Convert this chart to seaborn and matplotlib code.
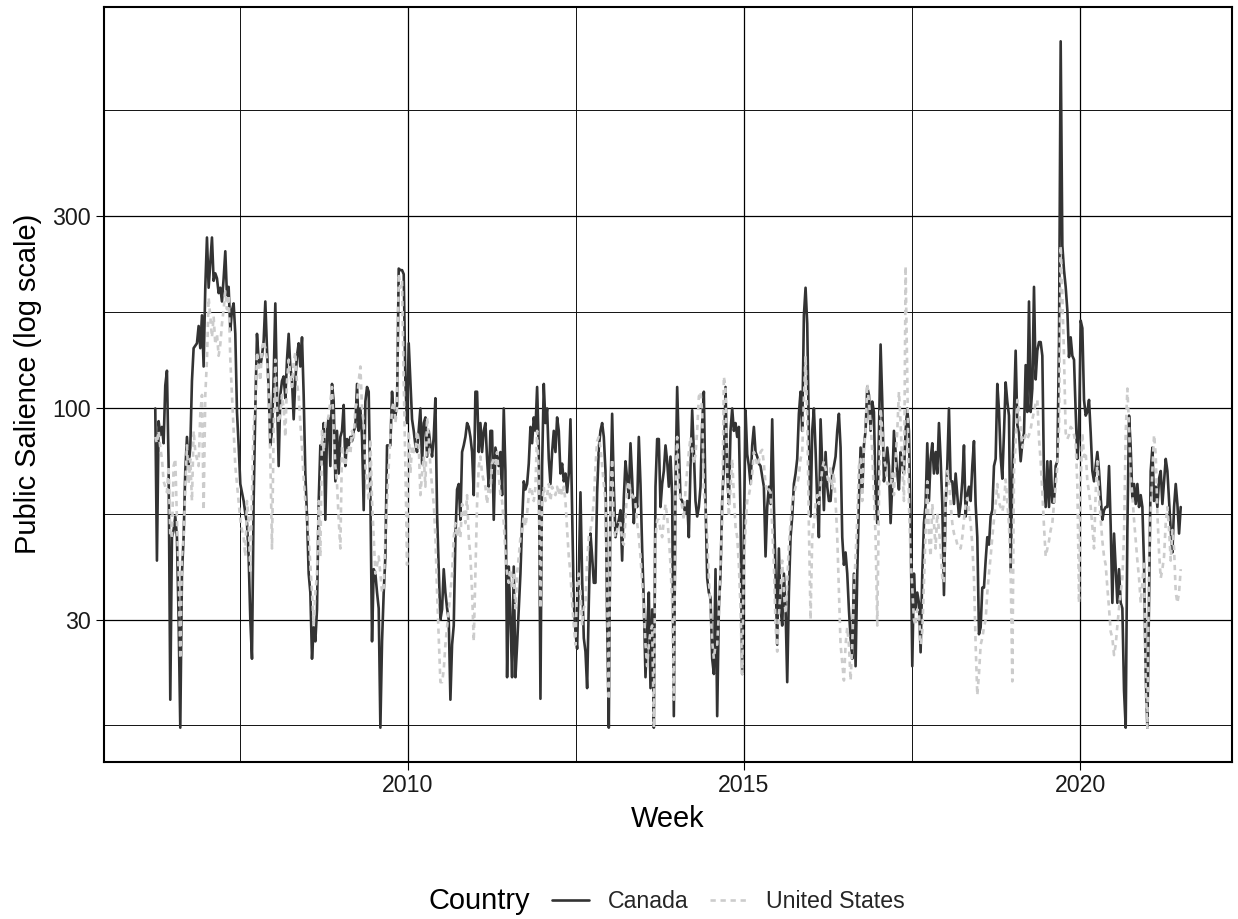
import datetime as dt
import numpy as np
import pandas as pd
import matplotlib
matplotlib.use("Agg")
import matplotlib.pyplot as plt
import matplotlib.dates as mdates
from matplotlib.ticker import FixedLocator, FixedFormatter, NullFormatter
from matplotlib.lines import Line2D
import seaborn as sns

# ---------------- data ----------------
countries = ["Canada", "United States"]
first_week = "2006-03-30"
last_week = "2021-07-01"
y_tick_values = [30, 100, 300]
x_tick_years = [2010, 2015, 2020]

canada = [
    # 2006.2 - 2008.7
    100, 42, 93, 86, 90, 82, 114, 124, 72, 19,
    48, 50, 54, 48, 30, 16.2, 39, 48, 70, 85,
    72, 80, 117, 141, 143, 145, 160, 141, 170, 127,
    200, 265, 199, 230, 265, 207, 216, 210, 193, 199,
    184, 210, 245, 190, 200, 156, 175, 182, 153, 98,
    81, 65, 62, 59, 55, 52, 43, 30, 24, 59,
    100, 153, 132, 127, 135, 147, 184, 140, 112, 81,
    88, 120, 182, 108, 72, 108, 117, 120, 106, 132,
    153, 127, 117, 94, 117, 135, 145, 127, 150, 108,
    69, 54, 39, 35, 24, 28.7, 26.5, 31.8, 58.6, 81,
    # 2008.7 - 2011.2
    73, 92, 53, 88, 95, 72, 115, 104, 66, 88,
    69, 85, 88, 102, 72, 84, 81, 85, 83, 88,
    90, 115, 88, 100, 85, 56, 104, 113, 110, 61,
    26.5, 40, 39, 35, 32, 16.2, 26.5, 35, 43, 81,
    81, 81, 110, 95, 96, 102, 222, 220, 220, 215,
    117, 92, 145, 117, 94, 88, 81, 78, 88, 100,
    73, 92, 95, 76, 88, 81, 76, 85, 106, 55,
    40, 30, 31.8, 40, 35, 32, 30, 19, 26, 29,
    48, 63, 65, 53, 78, 81, 85, 92, 90, 85,
    78, 61, 110, 110, 78, 92, 78, 88, 92, 75,
    64,
    # 2011.2 - 2013.7
    88, 88, 53, 80, 76, 72, 78, 61, 100, 70,
    21.6, 40.6, 30, 21.6, 40.6, 21.6, 26, 31.8, 39, 52,
    66, 63, 65, 73, 90, 82, 95, 88, 113, 80,
    19.1, 72, 115, 92, 100, 75, 65, 78, 88, 78,
    95, 88, 69, 73, 66, 69, 62, 69, 94, 55,
    33, 28, 25.4, 39, 62, 38, 27, 25, 20.3, 33,
    49, 43, 37, 37, 62, 80, 88, 92, 85, 70,
    30, 16.2, 60, 97, 64, 48, 51, 53, 56, 42,
    60, 74, 67, 60, 82, 67, 52, 60, 57, 85,
    65, 45, 33, 21.6, 28, 35, 20.3, 31.8, 16.2, 64,
    84, 84,
    # 2013.8 - 2016.3
    57, 65, 70, 81, 74, 64, 76, 61, 17.3, 65,
    113, 80, 60, 59, 57, 55, 59, 48, 72, 99,
    78, 59, 54, 57, 64, 92, 110, 59, 38, 35,
    34, 24, 22, 40, 17.3, 32, 39, 59, 72, 113,
    69, 58, 88, 100, 88, 92, 85, 90, 54, 22,
    48, 99, 77, 72, 65, 81, 90, 78, 76, 73,
    72, 68, 64, 43, 57, 64, 58, 94, 58, 39,
    26, 45, 32, 29, 39, 32, 21, 35, 48, 54,
    65, 69, 75, 97, 110, 88, 170, 199, 162, 85,
    54, 88, 100, 79, 59, 48, 94, 72, 56, 78,
    64, 59,
    # 2016.3 - 2018.8
    59, 69, 72, 76, 88, 97, 80, 48, 41, 44,
    39, 31.8, 27, 24, 39, 23, 39, 59, 80, 62,
    81, 88, 113, 108, 88, 104, 98, 61, 52, 88,
    144, 104, 66, 72, 80, 72, 52, 65, 88, 78,
    69, 63, 78, 72, 69, 88, 100, 88, 52, 23,
    39, 31.8, 35, 33, 24.9, 39, 52, 58, 82, 59,
    75, 82, 69, 78, 69, 92, 75, 58, 34.5, 58,
    72, 100, 66, 66, 58, 69, 61, 54, 58, 66,
    81, 54, 61, 64, 59, 72, 83, 58, 48, 27.6,
    28.7, 36, 36, 42, 48, 46, 54, 56, 72, 75,
    115,
    # 2018.8 - 2021.5
    99, 76, 67, 87, 116, 104, 96, 39.5, 67, 98,
    139, 91, 87, 74, 82, 87, 128, 98, 184, 98,
    112, 200, 118, 139, 146, 146, 135, 66.7, 57, 74,
    57, 74, 58.5, 58.5, 72, 74, 146, 811, 253, 220,
    200, 175, 134, 150, 135, 132, 98, 75, 87, 165,
    158, 105, 96, 98, 105, 87, 70, 66, 72, 78,
    70, 60, 53, 56, 57, 57, 72, 51, 33, 49,
    40, 33, 40, 33, 32, 20, 16.2, 50, 96, 80,
    60, 65, 58, 65, 57, 61, 57, 41, 22, 16.2,
    33, 70, 80, 59, 64, 57, 67, 70, 58, 66,
    75, 70, 59, 50, 44, 57, 65, 58, 49, 57,
]

united_states = [
    # 2006.2 - 2008.7
    85, 82, 88, 80, 75, 66, 64, 62, 72, 48,
    48, 72, 75, 53, 39, 24, 43, 48, 63, 81,
    65, 75, 59, 88, 78, 75, 72, 97, 108, 56,
    108, 132, 188, 169, 150, 169, 144, 153, 135, 144,
    162, 176, 195, 176, 191, 132, 108, 88, 72, 65,
    59, 53, 50, 48, 43, 59, 53, 39, 61, 92,
    100, 138, 127, 117, 141, 147, 141, 132, 108, 75,
    45, 88, 132, 100, 92, 97, 108, 100, 85, 117,
    132, 122, 113, 130, 138, 115, 108, 92, 80, 67,
    59, 53, 48, 41, 35, 29, 35, 39, 59, 43,
    # 2008.7 - 2011.2
    88, 78, 92, 92, 96, 104, 113, 88, 72, 65,
    53, 45, 81, 75, 72, 78, 81, 77, 88, 84,
    100, 104, 117, 127, 100, 92, 72, 65, 59, 84,
    59, 48, 39, 41, 43, 39, 35, 36, 48, 59,
    72, 85, 100, 104, 92, 100, 216, 199, 207, 117,
    72, 41, 88, 69, 81, 78, 78, 88, 81, 61,
    69, 76, 64, 95, 85, 72, 64, 58, 48, 35,
    27, 21, 21, 22.5, 26, 28.7, 31.8, 35, 39, 48,
    52, 48, 51, 48, 58, 56, 52, 61, 48, 43,
    35, 26.5, 39, 58, 72, 76, 69, 66, 64, 58,
    64,
    # 2011.2 - 2013.7
    62, 73, 75, 73, 78, 68, 61, 59, 52, 44,
    39, 37, 40, 36, 39, 32, 39, 43, 48, 50,
    54, 51, 55, 61, 64, 62, 59, 64, 88, 68,
    32, 58, 64, 59, 61, 65, 59, 64, 62, 61,
    64, 61, 64, 61, 64, 59, 50, 43, 39, 33,
    29, 26, 37, 39, 35, 29, 32, 33, 42, 48,
    50, 53, 59, 72, 83, 85, 80, 72, 65, 59,
    35, 19, 62, 75, 50, 48, 50, 52, 52, 47,
    46, 53, 63, 66, 62, 61, 60, 58, 52, 48,
    43, 37, 32, 26, 23, 26, 28, 29, 16.2, 48,
    53, 53,
    # 2013.8 - 2016.3
    50, 48, 53, 58, 54, 48, 41, 33, 19, 63,
    85, 63, 60, 57, 53, 63, 70, 78, 85, 79,
    73, 77, 88, 107, 110, 98, 62, 57, 48, 38,
    32, 26.5, 24, 26, 26, 31, 42, 52, 120, 112,
    70, 54, 64, 75, 61, 51, 48, 41, 32, 22,
    41, 51, 59, 61, 64, 69, 78, 76, 72, 74,
    78, 79, 73, 65, 62, 63, 62, 51, 41, 29,
    25, 31, 35, 42, 35, 31, 37, 46, 52, 59,
    61, 64, 65, 68, 75, 78, 106, 135, 95, 51,
    30, 48, 52, 58, 61, 58, 64, 71, 74, 71,
    68, 65,
    # 2016.3 - 2018.8
    72, 63, 69, 59, 48, 35, 26, 23.4, 21.2, 26,
    28.7, 26, 21.2, 26, 35, 43, 53, 72, 75, 59,
    80, 88, 115, 104, 92, 78, 61, 48, 29, 59,
    100, 88, 75, 72, 65, 65, 64, 69, 61, 75,
    88, 110, 92, 72, 59, 225, 120, 58, 43, 36,
    30, 29, 31.8, 31.2, 26, 28, 37, 50, 66, 48,
    43, 58, 52, 45, 55, 50, 45, 38, 37, 59,
    70, 66, 58, 52, 49, 48, 46, 45, 45, 48,
    53, 58, 60, 56, 52, 46, 38, 26, 19.5, 22,
    26, 27, 28.7, 30, 35, 39, 43, 48, 53, 58,
    65,
    # 2018.8 - 2021.5
    58.5, 57, 55.5, 58.5, 66.7, 58.5, 51.3, 39.5, 21.1, 70,
    82, 105, 98, 91, 80, 84, 86, 84, 86, 89,
    94, 98, 103, 105, 84, 74, 62, 51, 43, 45,
    47, 50, 52, 58, 64, 72, 90, 253, 190, 135,
    87, 84, 86, 90, 89, 86, 82, 65, 33, 66,
    87, 76, 78, 66, 62, 57, 51, 45, 62, 74,
    60, 53, 47, 43, 41, 36, 32, 28, 27, 24.5,
    26, 29, 32, 35, 38, 49, 87, 112, 90, 68,
    61, 53, 47, 42, 38, 33, 37, 42, 20, 16.2,
    42, 55, 70, 86, 77, 55, 44, 38, 40, 43,
    52, 57, 50, 42, 50, 45, 35, 33, 35, 40,
]

line_colors = {"Canada": "#333333", "United States": "#CCCCCC"}
line_dashes = {"Canada": "", "United States": (2, 1.8)}

# ---------------- build long data frame ----------------
frames = []
for name, vals in zip(countries, [canada, united_states]):
    frames.append(pd.DataFrame({
        "Week": pd.date_range(first_week, last_week, periods=len(vals)),
        "Salience": vals,
        "Country": name,
    }))
df = pd.concat(frames, ignore_index=True)

# ---------------- figure ----------------
sns.set_theme(style="white")
plt.rcParams["font.family"] = ["Liberation Sans", "DejaVu Sans"]

W, H = 1238, 919
fig = plt.figure(figsize=(W / 100, H / 100), dpi=100)
px_l, px_r, px_t, px_b = 104, 1232, 7, 762
ax = fig.add_axes([px_l / W, 1 - px_b / H, (px_r - px_l) / W, (px_b - px_t) / H])

sns.lineplot(data=df, x="Week", y="Salience", hue="Country", style="Country",
             hue_order=countries, style_order=countries,
             palette=line_colors, dashes=line_dashes, linewidth=1.9,
             estimator=None, legend=False, ax=ax)

ax.set_yscale("log")

# limits: 5% expansion (in transformed space) like ggplot
lo, hi = np.log10(df["Salience"].min()), np.log10(df["Salience"].max())
pad = 0.05 * (hi - lo)
ax.set_ylim(10 ** (lo - pad), 10 ** (hi + pad))
xnum = mdates.date2num(df["Week"])
xpad = 0.05 * (xnum.max() - xnum.min())
ax.set_xlim(xnum.min() - xpad, xnum.max() + xpad)

# y breaks and minor breaks (midpoints in log space)
ly = list(np.log10(y_tick_values))
bd = ly[1] - ly[0]
ext = [ly[0] - bd] + ly + [ly[-1] + bd]
y_minor = [10 ** ((a + b) / 2) for a, b in zip(ext[:-1], ext[1:])]
ax.yaxis.set_major_locator(FixedLocator(y_tick_values))
ax.yaxis.set_major_formatter(FixedFormatter([str(v) for v in y_tick_values]))
ax.yaxis.set_minor_locator(FixedLocator(y_minor))
ax.yaxis.set_minor_formatter(NullFormatter())

# x breaks and minor breaks
xm = [mdates.date2num(dt.datetime(y, 1, 1)) for y in x_tick_years]
bdx = xm[1] - xm[0]
extx = [xm[0] - bdx] + xm + [xm[-1] + bdx]
x_minor = [(a + b) / 2 for a, b in zip(extx[:-1], extx[1:])]
ax.xaxis.set_major_locator(FixedLocator(xm))
ax.xaxis.set_major_formatter(FixedFormatter([str(y) for y in x_tick_years]))
ax.xaxis.set_minor_locator(FixedLocator(x_minor))
ax.xaxis.set_minor_formatter(NullFormatter())

ax.grid(True, which="major", color="black", linewidth=0.9)
ax.grid(True, which="minor", color="#111111", linewidth=0.7)
ax.set_axisbelow(True)
for s in ax.spines.values():
    s.set_color("black")
    s.set_linewidth(1.5)

ax.tick_params(axis="both", which="major", direction="out", length=6, width=0.8,
               color="black", labelsize=16.7, labelcolor="#1a1a1a",
               left=True, bottom=True)
ax.tick_params(axis="y", which="major", pad=3.5)
ax.tick_params(axis="x", which="major", pad=2.5)
ax.tick_params(axis="both", which="minor", length=0)

ax.set_xlabel("")
ax.set_ylabel("")
fig.text(668 / W, 1 - 826.7 / H, "Week", ha="center", va="baseline",
         fontsize=20.9, color="black")
fig.text(28 / W, 1 - 384 / H, "Public Salience (log scale)", ha="center",
         va="center", rotation=90, fontsize=20.9, color="black")

# legend at bottom: title to the left of the keys
fig.text(428 / W, 1 - 909 / H, "Country", ha="left", va="baseline",
         fontsize=20.9, color="black")
handles = [Line2D([], [], color=line_colors[c], linewidth=1.9,
                  dashes=line_dashes[c] if line_dashes[c] else (None, None))
           for c in countries]
handles[0].set_linestyle("-")
leg = fig.legend(handles=handles, labels=countries, loc="center left",
                 bbox_to_anchor=(552 / W, 1 - 901.5 / H), ncol=2, frameon=False,
                 fontsize=16.7, handlelength=1.6, handletextpad=0.8,
                 columnspacing=0.95, borderpad=0, borderaxespad=0)

fig.savefig("out.png", dpi=100)
